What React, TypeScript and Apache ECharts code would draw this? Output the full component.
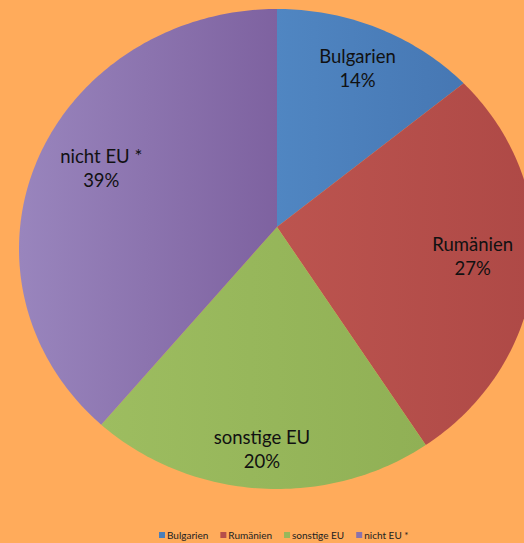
import React, { useEffect, useRef } from "react";
import * as echarts from "echarts";

const categories = ["Bulgarien", "Rumänien", "sonstige EU", "nicht EU *"];
const shares = [14, 27, 20, 39];
const colors = ["#4A7EBA", "#B54E4A", "#97B85B", "#8A72AB"];
const gradLeft = ["#5086C2", "#BC544F", "#9DBD60", "#9985BD"];
const gradRight = ["#4677B3", "#AE4946", "#90B055", "#7E62A0"];

// layout geometry (pixels / fractions)
const VX = 277;
const VY = 227;
const CX = 277;
const CY = 249;
const RX = 258;
const RY = 240;
const LABEL_FRACS = [0.8, 0.76, 0.85, 0.75];

function rayHit(theta: number) {
  let dx = Math.sin(theta) * RX;
  let dy = -Math.cos(theta) * RY;
  const len = Math.hypot(dx, dy);
  dx /= len;
  dy /= len;
  const ox = (VX - CX) / RX;
  const oy = (VY - CY) / RY;
  const a = (dx / RX) ** 2 + (dy / RY) ** 2;
  const b = 2 * (ox * dx / RX + oy * dy / RY);
  const c = ox * ox + oy * oy - 1;
  const t = (-b + Math.sqrt(b * b - 4 * a * c)) / (2 * a);
  return { dx, dy, t };
}

export default function App() {
  const ref = useRef<HTMLDivElement>(null);
  useEffect(() => {
    if (!ref.current) return;
    const chart = echarts.init(ref.current, null, { renderer: "svg" });
    const total = shares.reduce((s, v) => s + v, 0);
    const starts: number[] = [];
    let acc = 0;
    shares.forEach((v) => {
      starts.push(acc);
      acc += v;
    });

    const series = categories.map((name, i) => ({
      type: "custom",
      name,
      coordinateSystem: "none",
      itemStyle: { color: colors[i] },
      data: [shares[i]],
      renderItem: (params: any, api: any) => {
        const si = params.seriesIndex;
        const value = api.value(0);
        const a0 = (starts[si] / total) * Math.PI * 2;
        const a1 = ((starts[si] + value) / total) * Math.PI * 2;
        const pts: number[][] = [[VX, VY]];
        const steps = Math.max(4, Math.ceil(((a1 - a0) * 180) / Math.PI));
        for (let k = 0; k <= steps; k++) {
          const th = a0 + ((a1 - a0) * k) / steps;
          const h = rayHit(th);
          pts.push([VX + h.dx * h.t, VY + h.dy * h.t]);
        }
        const mid = (a0 + a1) / 2;
        const hm = rayHit(mid);
        const lx = VX + hm.dx * hm.t * LABEL_FRACS[si];
        const ly = VY + hm.dy * hm.t * LABEL_FRACS[si];
        const pct = Math.round((value / total) * 100) + "%";
        return {
          type: "group",
          children: [
            {
              type: "polygon",
              shape: { points: pts },
              style: {
                fill: new echarts.graphic.LinearGradient(0, 0, 1, 0, [
                  { offset: 0, color: gradLeft[si] },
                  { offset: 1, color: gradRight[si] },
                ]),
                stroke: "none",
              },
            },
            {
              type: "text",
              x: lx,
              y: ly,
              style: {
                text: categories[si] + "\n" + pct,
                align: "center",
                verticalAlign: "middle",
                fontFamily: "Lato",
                fontSize: 18.5,
                lineHeight: 24,
                fill: "#111111",
              },
            },
          ],
        };
      },
    }));

    chart.setOption({
      animation: false,
      backgroundColor: "#FFAB5B",
      color: colors,
      legend: {
        left: 159,
        top: 530,
        padding: 0,
        itemWidth: 6,
        itemHeight: 6,
        itemGap: 12,
        icon: "rect",
        textStyle: { fontFamily: "Lato", fontSize: 10, color: "#222222", padding: [0, 0, 0, -3] },
        data: categories,
      },
      series,
    } as any);
    return () => chart.dispose();
  }, []);
  return (
    <div
      ref={ref}
      style={{ position: "fixed", left: 0, top: 0, width: 524, height: 543 }}
    />
  );
}
